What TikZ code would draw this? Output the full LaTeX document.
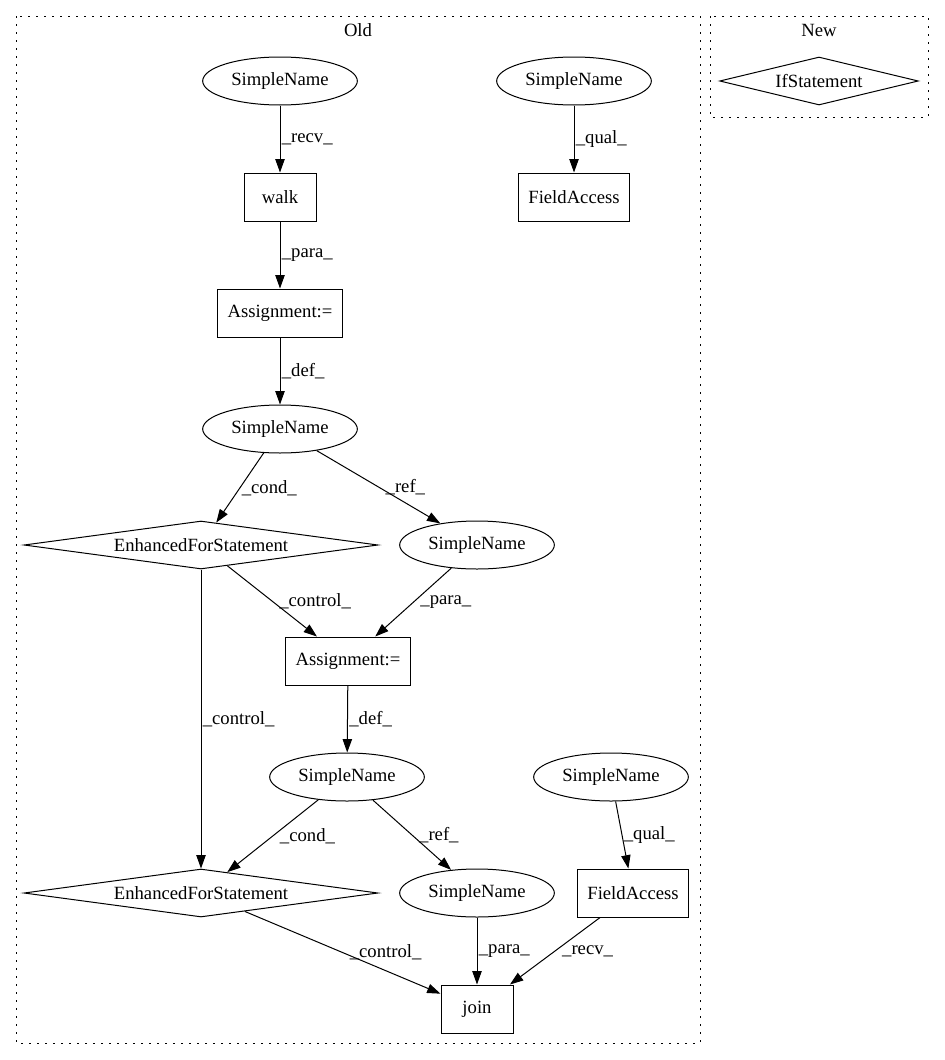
\documentclass[tikz,border=0pt]{standalone}
\usepackage{fontspec}
\setmainfont{Liberation Serif}
\usetikzlibrary{shapes.geometric, arrows.meta}

\begin{document}
\begin{tikzpicture}[
  x=0.75pt, y=-0.75pt, line width=0.75pt,
  every node/.style={font=\fontsize{14}{16}\selectfont},
  sname/.style={draw, ellipse, minimum width=116pt, minimum height=36pt, inner sep=0pt},
  box/.style={draw, rectangle, minimum height=36pt, inner sep=0pt},
  stmt/.style={draw, diamond, aspect=7, minimum height=36pt, inner sep=0pt},
  arr/.style={-{Triangle[length=10pt, width=7pt]}},
  lbl/.style={anchor=west, inner sep=1pt},
  cluster/.style={draw, dash pattern=on 1.5pt off 4.5pt}
]
\useasboundingbox (0,0) rectangle (945,1060);

\draw[cluster] (16,16) rectangle (700,1043);
\draw[cluster] (710,16) rectangle (928,117);
\node (old) at (358,30) {Old};
\node (new) at (819,30) {New};

\node[stmt, minimum width=149pt, aspect=4] (ifst) at (819,81) {IfStatement};

\node[sname] (sn1) at (280,81) {SimpleName};
\node[sname] (sn2) at (574,81) {SimpleName};
\node[box, minimum width=54pt] (walk) at (280,197) {walk};
\node[box, minimum width=83pt] (fa1)  at (574,197) {FieldAccess};
\node[box, minimum width=94pt] (asg1) at (280,313) {Assignment:=};
\node[sname] (sndef1) at (280,429) {SimpleName};
\node[stmt, minimum width=265.5pt] (efs1) at (201,545) {EnhancedForStatement};
\node[sname] (snref1) at (477,545) {SimpleName};
\node[box, minimum width=94pt] (asg2) at (348,661) {Assignment:=};
\node[sname] (sndef2) at (347,777) {SimpleName};
\node[sname] (sn3)    at (611,777) {SimpleName};
\node[stmt, minimum width=265.5pt] (efs2) at (201,893) {EnhancedForStatement};
\node[sname] (snref2) at (477,893) {SimpleName};
\node[box, minimum width=83pt] (fa2)  at (633,893) {FieldAccess};
\node[box, minimum width=54pt] (join) at (477,1009) {join};

\draw[arr] (sn1) -- node[lbl]{\_recv\_} (walk);
\draw[arr] (sn2) -- node[lbl]{\_qual\_} (fa1);
\draw[arr] (walk) -- node[lbl]{\_para\_} (asg1);
\draw[arr] (asg1) -- node[lbl]{\_def\_} (sndef1);
\draw[arr] (sndef1) -- node[lbl]{\_cond\_} (efs1);
\draw[arr] (sndef1) -- node[lbl, xshift=4pt]{\_ref\_} (snref1);
\draw[arr] (efs1) -- node[lbl, xshift=4pt]{\_control\_} (asg2);
\draw[arr] (snref1) -- node[lbl, xshift=4pt]{\_para\_} (asg2);
\draw[arr] (efs1) -- node[lbl]{\_control\_} (efs2);
\draw[arr] (asg2) -- node[lbl]{\_def\_} (sndef2);
\draw[arr] (sndef2) -- node[lbl, xshift=4pt]{\_cond\_} (efs2);
\draw[arr] (sndef2) -- node[lbl, xshift=4pt]{\_ref\_} (snref2);
\draw[arr] (sn3) -- node[lbl]{\_qual\_} (fa2);
\draw[arr] (efs2) -- node[lbl, xshift=4pt]{\_control\_} (join);
\draw[arr] (snref2) -- node[lbl]{\_para\_} (join);
\draw[arr] (fa2) -- node[lbl, xshift=4pt]{\_recv\_} (join);
\end{tikzpicture}
\end{document}
